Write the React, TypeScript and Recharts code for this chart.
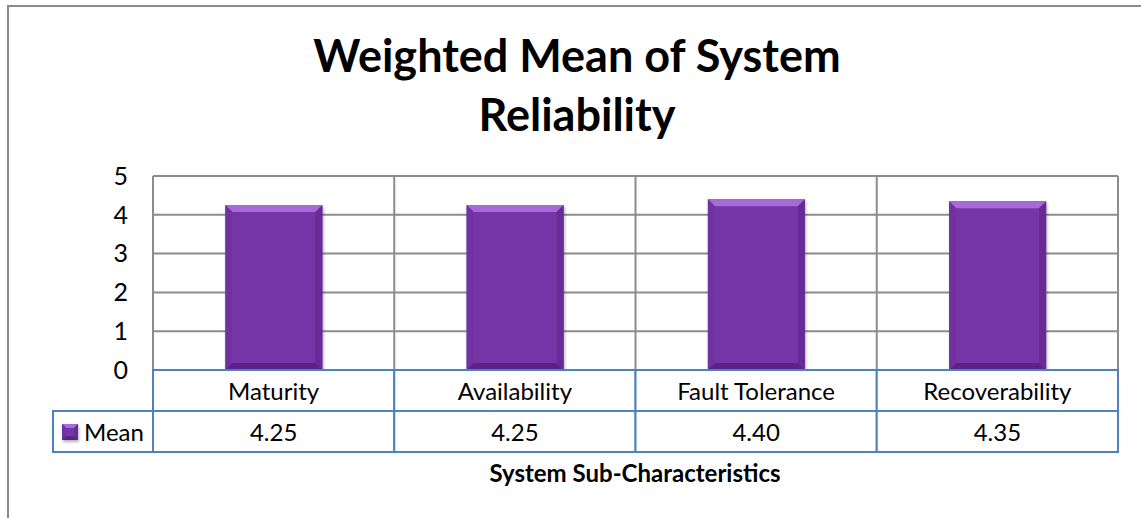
import React from 'react';
import { BarChart, Bar, XAxis, YAxis, CartesianGrid } from 'recharts';

// chart values
const categories = ['Maturity', 'Availability', 'Fault Tolerance', 'Recoverability'];
const meanValues = [4.25, 4.25, 4.4, 4.35];
const yTicks = [0, 1, 2, 3, 4, 5];
const seriesName = 'Mean';
const chartTitle = ['Weighted Mean of System', 'Reliability'];
const axisTitle = 'System Sub-Characteristics';

const data = categories.map((name, i) => ({ name, mean: meanValues[i] }));

// layout
const W = 1141;
const H = 518;
const PLOT_LEFT = 153;
const PLOT_RIGHT = 1118;
const PLOT_TOP = 176;
const PLOT_BOTTOM = 370;
const ROW_H = 41;
const Y_AXIS_W = 60;
const X_AXIS_H = 84;
const FONT = 'Lato, "Noto Sans", sans-serif';
const GRID = '#8c8c8c';
const TABLE = '#4f81bd';
const PURPLE = '#7636a6';

const BevelBar = (props: any) => {
  const { x, y, width: w, height: h } = props;
  if (!h || h <= 0) return null;
  const b = Math.min(7, w / 4, h / 4);
  return (
    <g filter="url(#barShadow)">
      <rect x={x} y={y} width={w} height={h} fill={PURPLE} />
      <polygon points={`${x},${y} ${x + w},${y} ${x + w - b},${y + b} ${x + b},${y + b}`} fill="#a66ad9" />
      <polygon points={`${x},${y} ${x + b},${y + b} ${x + b},${y + h - b} ${x},${y + h}`} fill="#7133a1" />
      <polygon points={`${x + w},${y} ${x + w - b},${y + b} ${x + w - b},${y + h - b} ${x + w},${y + h}`} fill="#682c96" />
      <polygon points={`${x},${y + h} ${x + b},${y + h - b} ${x + w - b},${y + h - b} ${x + w},${y + h}`} fill="#5d2488" />
    </g>
  );
};

const TableTick = (props: any) => {
  const { x, y, payload } = props;
  const i = payload.index ?? categories.indexOf(payload.value);
  const band = (PLOT_RIGHT - PLOT_LEFT) / categories.length;
  const left = x - band / 2;
  const textStyle = { fontFamily: FONT, fontSize: 24, fill: '#000' };
  return (
    <g>
      <line x1={left} y1={y} x2={left} y2={PLOT_TOP} stroke={GRID} strokeWidth={2} />
      {i === categories.length - 1 && (
        <line x1={left + band} y1={y} x2={left + band} y2={PLOT_TOP} stroke={GRID} strokeWidth={2} />
      )}
      <rect x={left} y={y} width={band} height={ROW_H} fill="#fff" stroke={TABLE} strokeWidth={2} />
      <rect x={left} y={y + ROW_H} width={band} height={ROW_H} fill="#fff" stroke={TABLE} strokeWidth={2} />
      <text x={x} y={y + ROW_H / 2} textAnchor="middle" dominantBaseline="central" style={textStyle}>
        {payload.value}
      </text>
      <text x={x} y={y + ROW_H * 1.5} textAnchor="middle" dominantBaseline="central" style={textStyle}>
        {meanValues[i].toFixed(2)}
      </text>
      {i === 0 && (
        <g>
          <rect x={left - 100} y={y + ROW_H} width={100} height={ROW_H} fill="#fff" stroke={TABLE} strokeWidth={2} />
          <BevelBar x={left - 91} y={y + ROW_H + 13} width={16} height={16} />
          <text x={left - 69} y={y + ROW_H * 1.5} dominantBaseline="central" style={textStyle}>
            {seriesName}
          </text>
        </g>
      )}
    </g>
  );
};

export default function App() {
  return (
    <div style={{ position: 'absolute', left: 0, top: 0, width: W, height: H, overflow: 'hidden', background: '#fff' }}>
      <div
        style={{
          position: 'absolute',
          left: 7,
          top: 5,
          width: W + 20,
          height: H + 20,
          borderLeft: '2px solid #8a8a8a',
          borderTop: '2px solid #8a8a8a',
        }}
      />
      <div style={{ position: 'absolute', left: 0, top: 0 }}>
        <BarChart
          width={W}
          height={H}
          data={data}
          barCategoryGap="30%"
          margin={{ top: PLOT_TOP, right: W - PLOT_RIGHT, bottom: H - PLOT_BOTTOM - X_AXIS_H, left: PLOT_LEFT - Y_AXIS_W }}
        >
          <defs>
            <filter id="barShadow" x="-20%" y="-20%" width="140%" height="140%">
              <feDropShadow dx="1" dy="2" stdDeviation="1.5" floodColor="#000" floodOpacity="0.3" />
            </filter>
          </defs>
          <CartesianGrid vertical={false} stroke={GRID} strokeWidth={2} />
          <YAxis
            width={Y_AXIS_W}
            domain={[0, 5]}
            ticks={yTicks}
            axisLine={false}
            tickLine={false}
            tickSize={0}
            tickMargin={25}
            tick={{ fontFamily: FONT, fontSize: 25, fill: '#000' }}
          />
          <XAxis
            dataKey="name"
            height={X_AXIS_H}
            interval={0}
            axisLine={false}
            tickLine={false}
            tickSize={0}
            tickMargin={0}
            tick={(p: any) => <TableTick {...p} />}
          />
          <Bar dataKey="mean" name={seriesName} shape={<BevelBar />} isAnimationActive={false} />
        </BarChart>
      </div>
      <svg width={W} height={H} style={{ position: 'absolute', left: 0, top: 0, pointerEvents: 'none' }}>
        <text x={577} y={72} textAnchor="middle" style={{ fontFamily: FONT, fontSize: 45, fontWeight: 700, fill: '#000' }}>
          {chartTitle[0]}
        </text>
        <text x={577} y={131} textAnchor="middle" style={{ fontFamily: FONT, fontSize: 45, fontWeight: 700, fill: '#000' }}>
          {chartTitle[1]}
        </text>
        <text x={635} y={482} textAnchor="middle" style={{ fontFamily: FONT, fontSize: 24, fontWeight: 700, fill: '#000' }}>
          {axisTitle}
        </text>
      </svg>
    </div>
  );
}
